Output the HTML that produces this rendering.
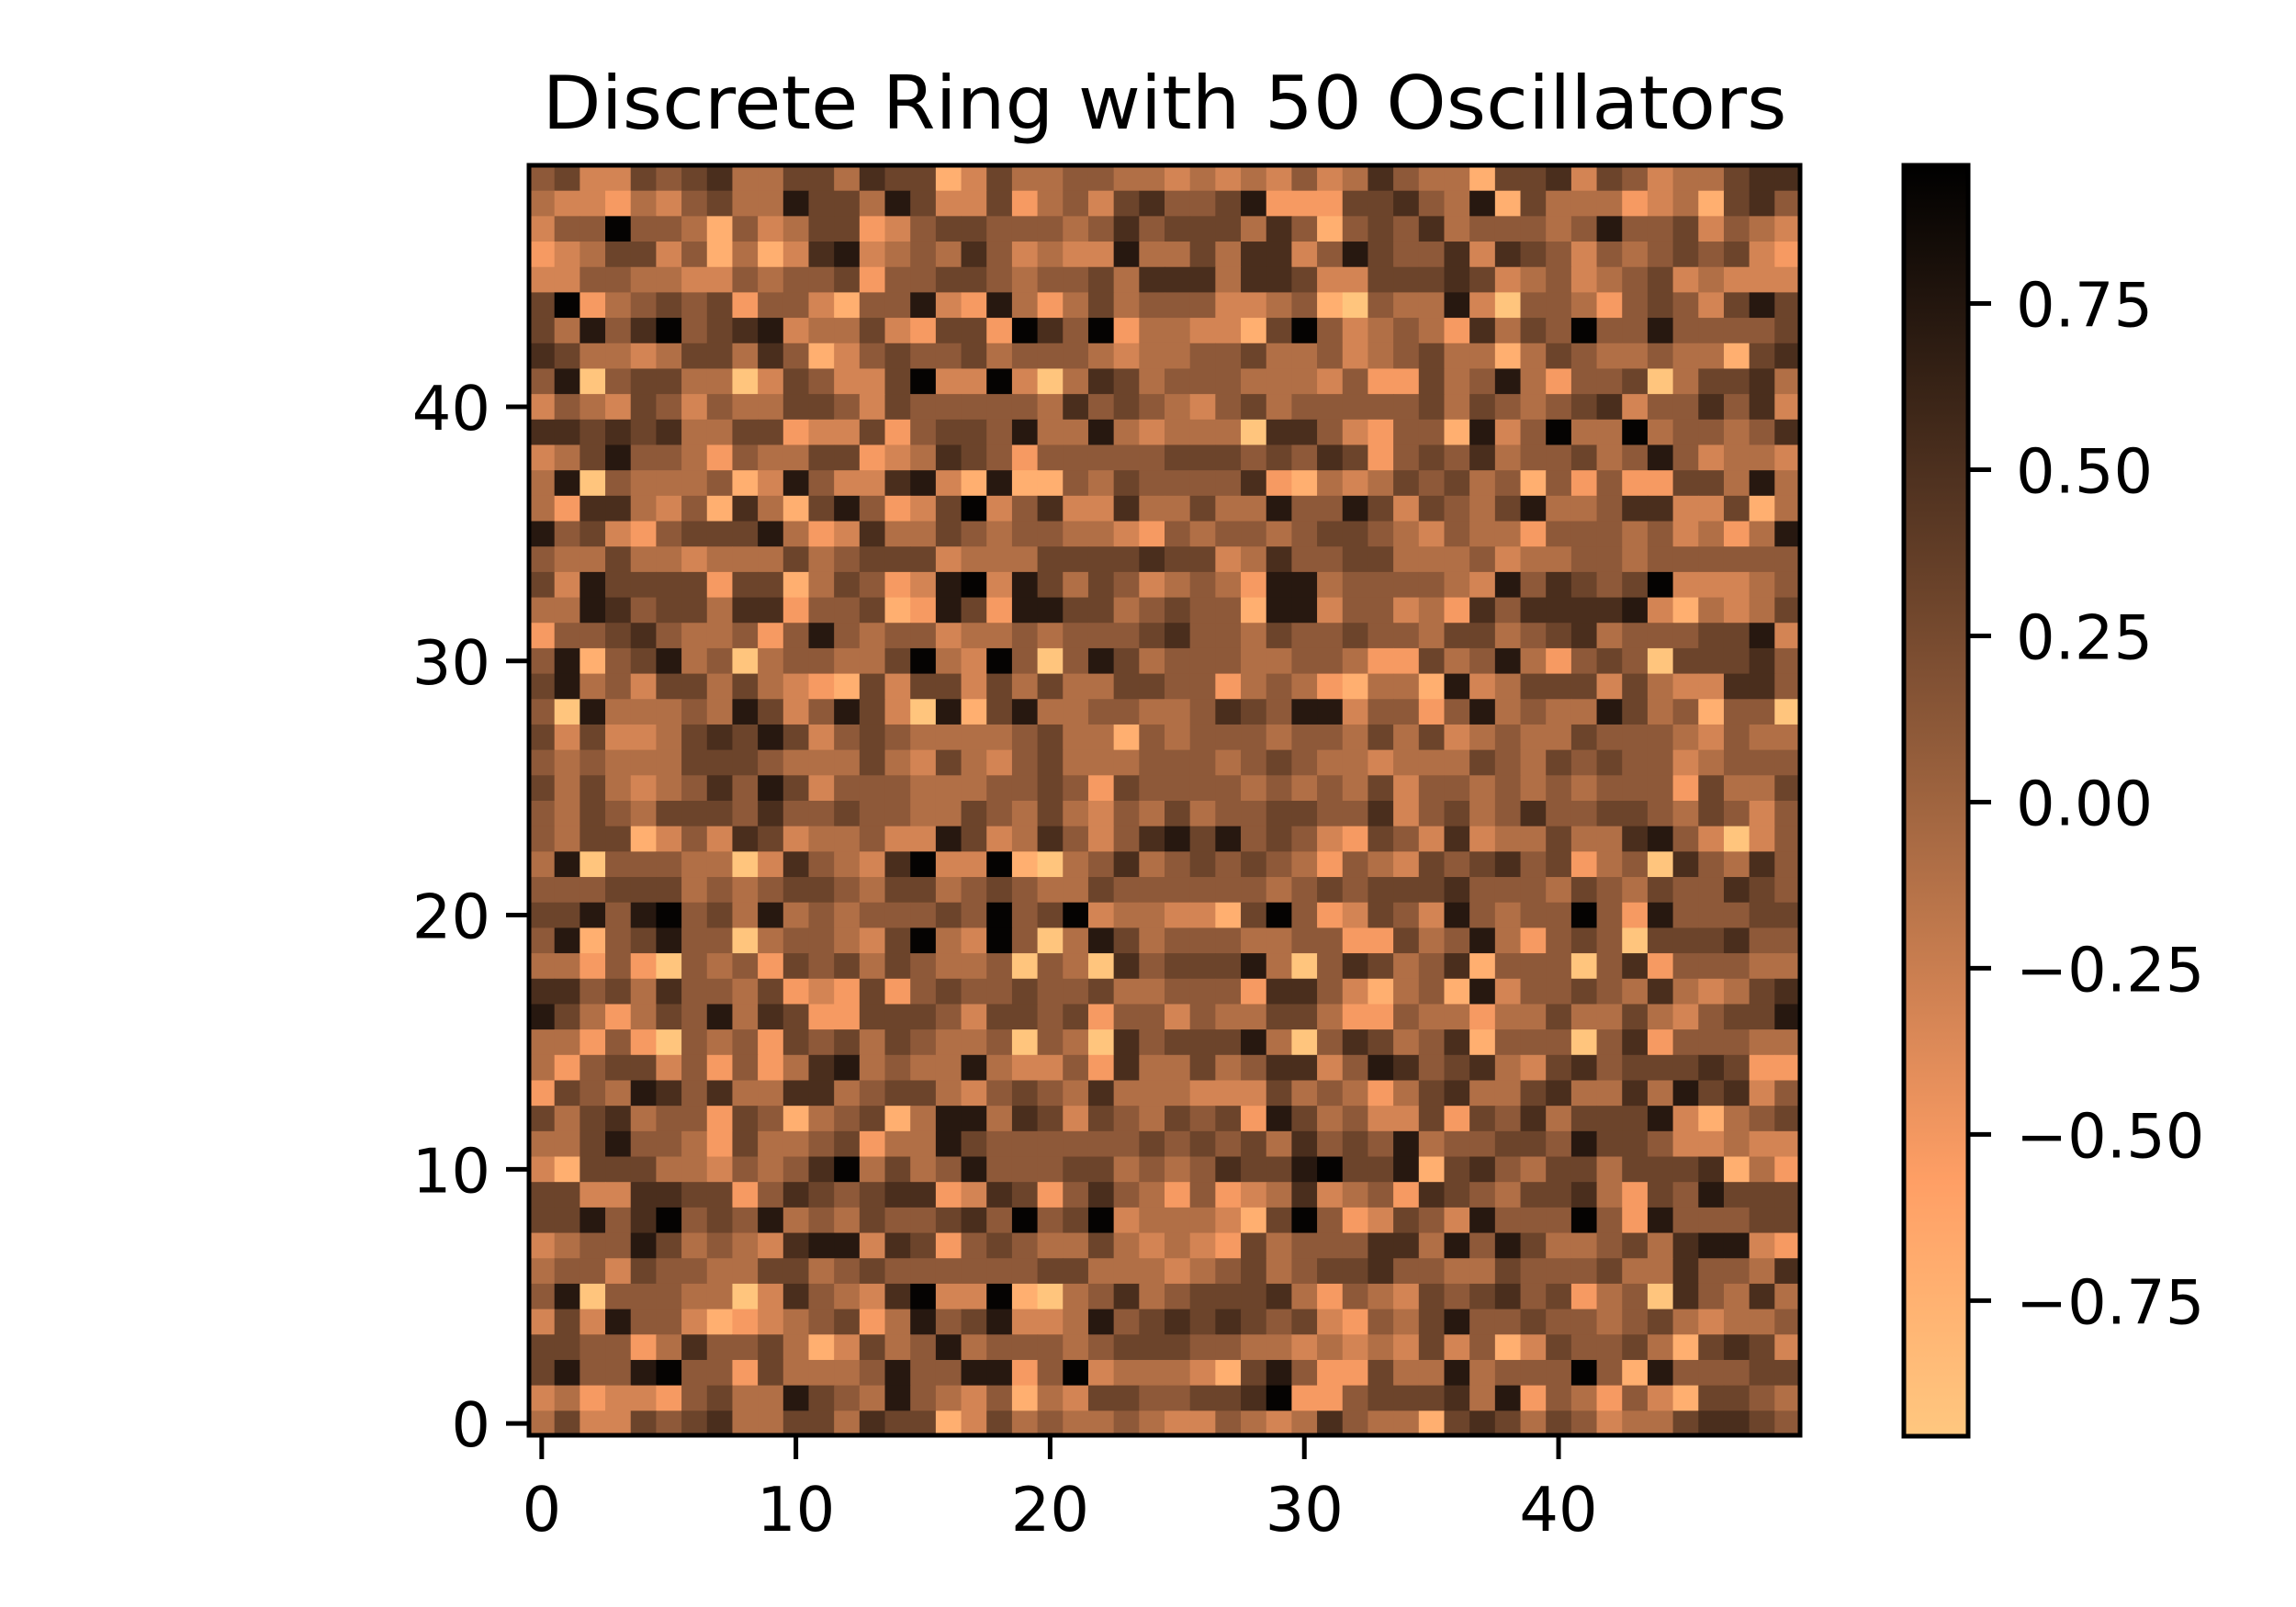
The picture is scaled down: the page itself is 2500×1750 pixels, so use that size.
<!DOCTYPE html>
<html><head><meta charset="utf-8"><style>
html,body{margin:0;padding:0;background:#fff;}
svg{display:block;font-family:"DejaVu Sans","Liberation Sans",sans-serif;}
</style></head><body>
<svg id="chart" width="2500" height="1750" viewBox="0 0 2500 1750" xmlns="http://www.w3.org/2000/svg">
<defs><linearGradient id="cbgrad" x1="0" y1="0" x2="0" y2="1"></linearGradient></defs>
<text x="1268" y="140" font-size="80" text-anchor="middle" textLength="1355" lengthAdjust="spacingAndGlyphs">Discrete Ring with 50 Oscillators</text>
<g id="cells"></g>
<rect x="576" y="180" width="1384" height="1383" fill="none" stroke="#000" stroke-width="5"/>
<g id="xticks"></g>
<g id="yticks"></g>
<rect x="2073" y="180" width="70" height="1384" fill="url(#cbgrad)" stroke="#000" stroke-width="5"/>
<g id="cbticks"></g>
</svg>
<script>
// level 0 (lightest, low value) .. 9 (darkest, high value); rows listed top (row 49) to bottom (row 0)
const rowsTopToBottom = [
"56336567446647661364455443434353475441667365344677",
"43324356448664863362453675568222667548164442341675",
"35595541534662356655545756664751565745554585563543",
"23466351413783454753433844647735865573765354565632",
"33554433545562556654556477747763366676345345634333",
"69245656255315583284246455533451054483055425653686",
"64857956783446326629759244331695345427465955855556",
"76443466475135655645554344556445345644146544544167",
"58056644036533693393047645554443522645842556046674",
"35436535446653655555475654356455555646545673557573",
"77676744662336256658448434440775325518359449455457",
"34685542544662347652555556665657625657455645853443",
"48054445138533783181154655557214346564515252266484",
"42774351741685236935733744644855863654684457733614",
"85632566684237446545544325455456654354425554534248",
"54464434446456663444666676634755664445344554555555",
"63866662661465238938646534542884555543857656933345",
"44875664772556128628866456551883553427577778314346",
"25567544525854553445455567554655655466456745556683",
"58156845045544694395058645554455422645842565066675",
"68453664643216366364644665524542144183466636433775",
"50844454863586308168445544576588355258454486451550",
"63633467686356544445644154555455464634544655543544",
"54544466654446436435644455545654434446546565534555",
"64643457586355544455652655554545463554545455526446",
"54654666575565544654643546455665573564575566546535",
"54661353763445338634753578685653265373446447853035",
"48055544037543793391045745656542543656756245075475",
"55566645456654664565446555555456566675554654655765",
"66858956484545556595693443316952365385455952855566",
"58156855045543694395048645554455226458425650666755",
"44252054526564654450540756668405764571555057255544",
"77564755462326256556556445552775314518355654743467",
"86424658476226665366562553544664225442446446435668",
"44252054526564654450540756668405764571555057255544",
"42566352524784544843352744645773587567436756667622",
"26548757447745664356547444333645424674467447486735",
"64674552651456148847636546562864533626574666831456",
"44685542644562448655555565656475658455665866533433",
"31666443545794645855566454576689668167546646667142",
"66337766257656772376257542523473452765466742658666",
"66857956584546556759569344431695236538555952855566",
"34558645437883762565446434326455577485864456478832",
"45536554466456555555664443456456675544655564475547",
"58055544037543793391045745666742543656756245075474",
"36385531234562485683348567676563254685565545643445",
"66552475564136458455545666554434343635136556416763",
"68558955264445855882593444316852264484555951855566",
"34233256448654854351436655667922566674825425316654",
"46336567446647661364544543354347544167646534467765"
];
const vmin = -0.954, vmax = 0.958;
const cbTickValues = [-0.75, -0.5, -0.25, 0, 0.25, 0.5, 0.75];
const cbTickLabels = ["\u22120.75", "\u22120.50", "\u22120.25", "0.00", "0.25", "0.50", "0.75"];
const xTickValues = [0, 10, 20, 30, 40];
const yTickValues = [0, 10, 20, 30, 40];

const NS = "http://www.w3.org/2000/svg";
const AX = {left: 576, top: 180, size: 1384, n: 50};
const cell = AX.size / AX.n;
const CB = {x: 2073, w: 70, top: 180, bottom: 1564};
function levelToValue(c) { return -0.93 + parseInt(c, 10) * (1.86 / 9); }
function xPos(col) { return AX.left + col * cell; }
function yPos(row) { return AX.top + (AX.n - 1 - row) * cell; }
function cbY(v) { return CB.top + (vmax - v) / (vmax - vmin) * (CB.bottom - CB.top); }
function colorOf(v) {
  let t = (v - vmin) / (vmax - vmin); t = Math.max(0, Math.min(1, t));
  const x = 1 - t;
  const r = Math.round(255 * Math.min(1, 1.25 * x)), g = Math.round(255 * 0.7812 * x), b = Math.round(255 * 0.4975 * x);
  return "rgb(" + r + "," + g + "," + b + ")";
}
function mk(tag, attrs) { const e = document.createElementNS(NS, tag); for (const k in attrs) e.setAttribute(k, attrs[k]); return e; }

const values = rowsTopToBottom.map(s => {
  let t = s.replace(/\s/g, "");
  while (t.length < 50) t += t[t.length - 1];
  return t.slice(0, 50).split("").map(levelToValue);
});
const cells = document.getElementById("cells");
for (let i = 0; i < 50; i++) {
  const row = 49 - i;
  for (let col = 0; col < 50; col++) {
    const r = mk("rect", {x: xPos(col).toFixed(2), y: yPos(row).toFixed(2), width: (cell + 0.6).toFixed(2), height: (cell + 0.6).toFixed(2), fill: colorOf(values[i][col])});
    
    
    cells.appendChild(r);
  }
}
const xt = document.getElementById("xticks");
xTickValues.forEach(v => {
  const cx = xPos(v) + cell / 2;
  const l = mk("line", {x1: cx, x2: cx, y1: AX.top + AX.size, y2: AX.top + AX.size + 25, stroke: "#000", "stroke-width": 5});
  
  
  xt.appendChild(l);
  const t = mk("text", {x: cx, y: AX.top + AX.size + 103, "font-size": 67, "text-anchor": "middle"});
  
  
  t.textContent = v; xt.appendChild(t);
});
const yt = document.getElementById("yticks");
yTickValues.forEach(v => {
  const cy = yPos(v) + cell / 2;
  const l = mk("line", {x1: AX.left - 25, x2: AX.left, y1: cy, y2: cy, stroke: "#000", "stroke-width": 5});
  
  
  yt.appendChild(l);
  const t = mk("text", {x: AX.left - 42, y: cy + 25, "font-size": 67, "text-anchor": "end"});
  
  
  t.textContent = v; yt.appendChild(t);
});
const grad = document.getElementById("cbgrad");
for (let k = 0; k <= 20; k++) {
  const v = vmax - (vmax - vmin) * k / 20;
  grad.appendChild(mk("stop", {offset: (k / 20 * 100) + "%", "stop-color": colorOf(v)}));
}
const cbt = document.getElementById("cbticks");
cbTickValues.forEach((v, i) => {
  const y = cbY(v);
  const l = mk("line", {x1: CB.x + CB.w, x2: CB.x + CB.w + 25, y1: y, y2: y, stroke: "#000", "stroke-width": 5});
  
  
  cbt.appendChild(l);
  const t = mk("text", {x: 2195, y: y + 25, "font-size": 67});
  
  
  t.textContent = cbTickLabels[i]; cbt.appendChild(t);
});
</script>
</body></html>
